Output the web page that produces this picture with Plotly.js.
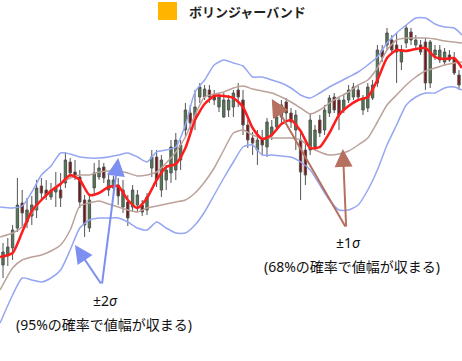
<!DOCTYPE html>
<html>
<head>
<meta charset="utf-8">
<script src="https://cdn.plot.ly/plotly-3.0.1.min.js"></script>
<style>html,body{margin:0;padding:0;background:#fff;}#chart{width:462px;height:361px;}</style>
</head>
<body>
<div id="chart"></div>
<script>
// Candle index positions
const candleIdx = Array.from({length: 96}, (_, i) => i);
const openP  = [96,105,113,133,158,139,145,151,175,171,164,169,171,178,199,189,184,161,133,173,184,194,171,173,176,154,159,154,156,156,151,193,204,171,181,188,191,201,231,248,244,264,264,271,266,254,244,251,254,271,261,236,223,211,223,214,226,234,244,259,248,231,221,211,211,214,241,231,248,264,261,251,261,264,271,251,253,263,278,311,316,321,316,299,318,329,316,316,319,278,306,301,299,306,303,286];
const closeP = [109,114,131,156,148,151,156,173,168,166,171,173,163,201,188,185,159,136,161,188,193,183,181,181,165,171,143,171,166,149,164,204,181,201,191,214,221,216,251,238,254,274,272,264,261,264,261,261,268,264,236,221,218,221,216,239,234,244,256,248,239,246,189,186,241,231,228,251,263,251,246,261,271,274,264,263,274,276,311,304,328,311,309,311,333,321,321,309,278,319,311,311,309,301,288,276];
const highP  = [118,123,136,183,171,163,165,181,183,181,178,189,188,209,203,201,191,166,165,198,201,198,186,185,183,181,166,176,171,161,168,211,211,206,196,221,228,221,258,256,271,278,276,276,271,268,268,266,271,278,271,241,229,231,231,243,241,249,261,263,253,251,228,218,248,236,246,256,266,268,264,266,276,278,275,266,278,281,316,316,333,326,328,316,336,333,326,321,323,321,316,316,313,311,309,291];
const lowP   = [83,95,101,129,133,133,136,143,161,161,161,154,154,173,184,181,153,124,129,166,181,178,165,166,156,148,135,149,149,145,146,184,174,164,171,178,181,191,224,231,231,258,261,258,256,249,243,244,244,254,226,213,206,196,206,204,221,231,236,241,233,211,161,176,206,211,224,226,244,248,231,248,258,261,261,246,249,261,274,299,311,308,278,291,313,316,313,306,271,273,301,298,296,299,286,271];

// Band sample positions (candle index units)
const bandIdx = [-0.6,2,4,6,8,10,12,14,16,18,20,22,24,26,28,30,32,34,36,38,40,42,44,46,48,50,52,54,56,58,60,62,64,66,68,70,72,74,76,78,80,82,84,86,88,90,92,94,95.6];
const upper2 = [154,153,155,169,186,195,208,207,204,203,203,204,206,208,204,199,209,211,214,236,269,281,296,301,298,295,284,284,281,278,273,266,263,268,274,279,284,289,296,304,318,328,336,343,343,337,334,333,326];
const upper1 = [124,128,134,148,161,171,178,183,186,186,189,190,190,188,185,186,189,198,209,224,246,264,267,269,273,275,272,270,268,264,259,253,247,251,258,264,269,276,281,293,311,321,323,323,323,322,320,319,318];
const middle = [104,108,129,150,161,170,177,186,181,166,168,174,175,161,153,163,181,194,197,213,241,257,265,265,263,254,233,222,226,237,241,230,213,214,228,246,255,261,264,281,303,311,310,312,313,304,302,303,293];
const lower1 = [71,93,101,104,106,110,116,131,155,158,160,157,154,151,149,153,155,157,159,161,168,179,193,211,228,231,226,223,223,223,223,221,214,209,206,207,210,216,223,239,256,266,276,284,290,293,296,298,299];
const lower2 = [38,66,83,81,79,83,91,111,133,141,143,143,143,139,133,131,139,133,128,128,136,149,166,183,199,214,216,206,206,205,204,199,191,176,161,151,151,156,171,191,216,236,256,264,268,268,273,274,271];

const legendLabel = 'ボリンジャーバンド';
const label2 = '±2<i>σ</i>';
const note2 = '(95%の確率で値幅が収まる)';
const label1 = '±1<i>σ</i>';
const note1 = '(68%の確率で値幅が収まる)';

const BLUE = '#95a6f2', BROWN = '#bba29b', RED = '#ff1c1c';
const ARROW_BLUE = '#7d8ff0', ARROW_BROWN = '#b5705f';
const FONT = '"Noto Sans", "Noto Sans CJK JP", sans-serif';

function band(y, color, w) {
  return {type: 'scatter', mode: 'lines', x: bandIdx, y: y, line: {color: color, width: w, shape: 'spline', smoothing: 0.6}, hoverinfo: 'skip', showlegend: false};
}

const traces = [
  band(upper2, BLUE, 1.5),
  band(lower2, BLUE, 1.5),
  band(upper1, BROWN, 1.5),
  band(lower1, BROWN, 1.5),
  {
    type: 'candlestick', x: candleIdx, open: openP, high: highP, low: lowP, close: closeP,
    increasing: {line: {color: '#555555', width: 1}, fillcolor: '#4e7d50'},
    decreasing: {line: {color: '#555555', width: 1}, fillcolor: '#860d0d'},
    whiskerwidth: 0, showlegend: false, hoverinfo: 'skip'
  },
  band(middle, RED, 2.5)
];

function arrow(xh, yh, xt, yt, color) {
  return {x: xh, y: yh, ax: xt, ay: yt, xref: 'x', yref: 'y', axref: 'x', ayref: 'y', text: '', showarrow: true,
    arrowhead: 2, arrowsize: 1.8, arrowwidth: 2, arrowcolor: color, standoff: 0, startstandoff: 0};
}

const layout = {
  width: 462, height: 361,
  margin: {l: 0, r: 0, t: 0, b: 0},
  paper_bgcolor: '#ffffff', plot_bgcolor: '#ffffff',
  showlegend: false,
  xaxis: {range: [-0.625, 95.625], visible: false, fixedrange: true, rangeslider: {visible: false}},
  yaxis: {range: [0, 361], visible: false, fixedrange: true},
  shapes: [
    {type: 'rect', xref: 'paper', yref: 'paper', x0: 158/462, x1: 177/462, y0: 1 - 20/361, y1: 1 - 2/361,
     fillcolor: '#ffb400', line: {width: 0}}
  ],
  annotations: [
    {xref: 'paper', yref: 'paper', x: 187/462, y: 1 - 11/361, xanchor: 'left', yanchor: 'middle', showarrow: false,
     text: '<b>' + legendLabel + '</b>', font: {family: '"Noto Sans CJK JP", sans-serif', size: 13, color: '#222'}},
    arrow(15, 116, 20.6, 76, ARROW_BLUE),
    arrow(24, 203, 20.6, 76, ARROW_BLUE),
    arrow(56, 262, 71.5, 133, ARROW_BROWN),
    arrow(70.8, 212, 71.5, 133, ARROW_BROWN),
    {xref: 'paper', yref: 'paper', x: 105/462, y: 1 - 300/361, xanchor: 'center', yanchor: 'middle', showarrow: false,
     text: label2, font: {family: FONT, size: 14, color: '#111'}},
    {xref: 'paper', yref: 'paper', x: 104/462, y: 1 - 324/361, xanchor: 'center', yanchor: 'middle', showarrow: false,
     text: note2, font: {family: FONT, size: 14, color: '#111'}},
    {xref: 'paper', yref: 'paper', x: 348/462, y: 1 - 242/361, xanchor: 'center', yanchor: 'middle', showarrow: false,
     text: label1, font: {family: FONT, size: 14, color: '#111'}},
    {xref: 'paper', yref: 'paper', x: 352/462, y: 1 - 266/361, xanchor: 'center', yanchor: 'middle', showarrow: false,
     text: note1, font: {family: FONT, size: 14, color: '#111'}}
  ]
};

Plotly.newPlot('chart', traces, layout, {staticPlot: true, displayModeBar: false});
</script>
</body>
</html>
